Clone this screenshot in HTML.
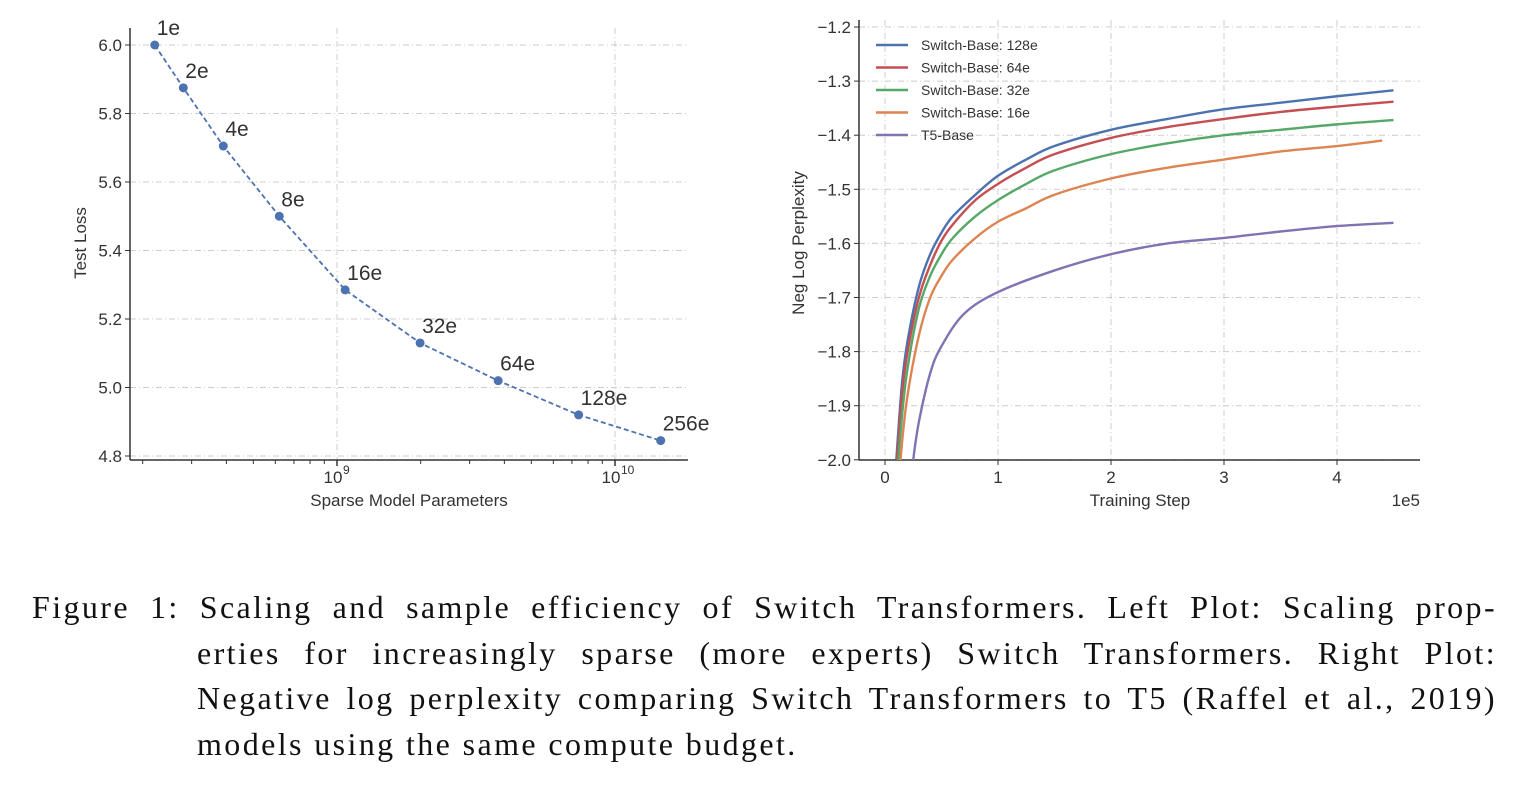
<!DOCTYPE html>
<html><head><meta charset="utf-8"><style>
body{margin:0;width:1540px;height:792px;background:#fff;overflow:hidden;position:relative;font-family:"Liberation Sans",sans-serif}
.cap{position:absolute;font-family:"Liberation Serif",serif;font-size:32px;letter-spacing:2.4px;color:#111;white-space:nowrap}
</style></head><body>
<svg id="chart" width="1540" height="540" style="position:absolute;left:0;top:0" font-family="Liberation Sans, sans-serif"></svg>
<span class="cap jl" data-w="1465" style="left:32px;top:589px">Figure 1: Scaling and sample efficiency of Switch Transformers. Left Plot: Scaling prop-</span>
<span class="cap jl" data-w="1300" style="left:197px;top:635px">erties for increasingly sparse (more experts) Switch Transformers. Right Plot:</span>
<span class="cap jl" data-w="1300" style="left:197px;top:680px">Negative log perplexity comparing Switch Transformers to T5 (Raffel et al., 2019)</span>
<span class="cap" style="left:197px;top:726px">models using the same compute budget.</span>
<script>
const leftLabels=["1e","2e","4e","8e","16e","32e","64e","128e","256e"];
const leftParams=[2.21e8,2.8e8,3.9e8,6.2e8,1.07e9,1.99e9,3.8e9,7.4e9,1.46e10];
const leftLoss=[6.0,5.875,5.705,5.50,5.285,5.13,5.02,4.92,4.845];
const leftYTicks=[4.8,5.0,5.2,5.4,5.6,5.8,6.0];
const rightXTicks=[0,1,2,3,4];
const rightYTicks=[-2.0,-1.9,-1.8,-1.7,-1.6,-1.5,-1.4,-1.3,-1.2];
const seriesNames=["Switch-Base: 128e","Switch-Base: 64e","Switch-Base: 32e","Switch-Base: 16e","T5-Base"];
const switchSteps=[0.1,0.15,0.2,0.3,0.4,0.5,0.6,0.8,1.0,1.25,1.5,2,2.5,3,3.5,4,4.5];
const blueVals=[-2.0,-1.86,-1.78,-1.68,-1.62,-1.58,-1.55,-1.51,-1.475,-1.445,-1.42,-1.39,-1.37,-1.352,-1.34,-1.328,-1.317];
const redVals=[-2.02,-1.88,-1.80,-1.70,-1.64,-1.595,-1.565,-1.52,-1.49,-1.46,-1.435,-1.405,-1.385,-1.37,-1.357,-1.347,-1.338];
const greenVals=[-2.05,-1.92,-1.83,-1.72,-1.66,-1.62,-1.59,-1.55,-1.52,-1.49,-1.465,-1.435,-1.415,-1.40,-1.39,-1.38,-1.372];
const orangeSteps=[0.1,0.15,0.2,0.3,0.4,0.5,0.6,0.8,1.0,1.25,1.5,2,2.5,3,3.5,4,4.4];
const orangeVals=[-2.1,-1.97,-1.88,-1.77,-1.70,-1.66,-1.63,-1.59,-1.56,-1.535,-1.51,-1.48,-1.46,-1.445,-1.43,-1.42,-1.41];
const t5Steps=[0.2,0.25,0.3,0.4,0.5,0.7,1.0,1.5,2,2.5,3,3.5,4,4.5];
const t5Vals=[-2.1,-2.0,-1.93,-1.84,-1.79,-1.73,-1.69,-1.65,-1.62,-1.60,-1.59,-1.578,-1.568,-1.562];

document.querySelectorAll('.jl').forEach(s=>{const w=+s.dataset.w;const n=(s.textContent.match(/ /g)||[]).length;
 const cur=s.getBoundingClientRect().width;if(n)s.style.wordSpacing=((w-cur)/n)+'px';});

const svg=document.getElementById('chart');const NS='http://www.w3.org/2000/svg';
function el(t,a,p){const e=document.createElementNS(NS,t);for(const k in a)e.setAttribute(k,a[k]);(p||svg).appendChild(e);return e;}
const lx=v=>337+(Math.log10(v)-9)*278, ly=v=>456-(v-4.8)/0.2*68.5;
const gL=el('g',{});

for(const t of leftYTicks){const y=ly(t);
 const g=el('line',{x1:130,x2:688,y1:y,y2:y,stroke:'#ccc','stroke-dasharray':'6,3,1,3','stroke-width':1},gL);
 
 el('line',{x1:125,x2:130,y1:y,y2:y,stroke:'#333'},gL);
 const tx=el('text',{x:122,y:y+6,'text-anchor':'end','font-size':17,fill:'#333'},gL);tx.textContent=t.toFixed(1);
 }
for(const e of [9,10]){const x=lx(Math.pow(10,e));
 const g=el('line',{x1:x,x2:x,y1:28,y2:460,stroke:'#ccc','stroke-dasharray':'6,3,1,3'},gL);
 
 el('line',{x1:x,x2:x,y1:460,y2:466,stroke:'#333','stroke-width':1.5},gL);
 const tx=el('text',{x:x-4,y:483,'text-anchor':'middle','font-size':17,fill:'#333'},gL);tx.textContent='10';
 
 const sp=el('text',{x:x+6,y:474,'font-size':12,fill:'#333'},gL);sp.textContent=String(e);}
for(let e=8;e<=10;e++)for(let m=2;m<=9;m++){const v=m*Math.pow(10,e),x=lx(v);if(x>130&&x<688)el('line',{x1:x,x2:x,y1:460,y2:464,stroke:'#333'},gL);}
el('line',{x1:130,x2:130,y1:28,y2:460,stroke:'#333','stroke-width':1.5},gL);
el('line',{x1:130,x2:688,y1:460,y2:460,stroke:'#333','stroke-width':1.5},gL);
let d='';leftParams.forEach((p,i)=>{d+=(i?'L':'M')+lx(p)+','+ly(leftLoss[i]);});
const ln=el('path',{d,fill:'none',stroke:'#4c72b0','stroke-width':1.8,'stroke-dasharray':'5,3'},gL);

leftParams.forEach((p,i)=>{const c=el('circle',{cx:lx(p),cy:ly(leftLoss[i]),r:4.5,fill:'#4c72b0'},gL);
 
 const t=el('text',{x:lx(p)+2,y:ly(leftLoss[i])-10,'font-size':21,fill:'#333'},gL);t.textContent=leftLabels[i];
 });
let t=el('text',{x:409,y:506,'text-anchor':'middle','font-size':17,fill:'#333'},gL);t.textContent='Sparse Model Parameters';

t=el('text',{x:0,y:0,'text-anchor':'middle','font-size':17,fill:'#333',transform:'translate(86,243) rotate(-90)'},gL);t.textContent='Test Loss';

const rx=v=>885+v*113, ry=v=>27+(-1.2-v)/0.1*54.1;
const gR=el('g',{});

for(const v of rightYTicks){const y=ry(v);
 const g=el('line',{x1:859,x2:1420,y1:y,y2:y,stroke:'#ccc','stroke-dasharray':'6,3,1,3'},gR);
 
 el('line',{x1:854,x2:859,y1:y,y2:y,stroke:'#333'},gR);
 const tx=el('text',{x:851,y:y+6,'text-anchor':'end','font-size':17,fill:'#333'},gR);tx.textContent='\u2212'+Math.abs(v).toFixed(1);
 }
for(const v of rightXTicks){const x=rx(v);
 const g=el('line',{x1:x,x2:x,y1:20,y2:460,stroke:'#ccc','stroke-dasharray':'6,3,1,3'},gR);
 
 el('line',{x1:x,x2:x,y1:460,y2:465,stroke:'#333'},gR);
 const tx=el('text',{x:x,y:483,'text-anchor':'middle','font-size':17,fill:'#333'},gR);tx.textContent=String(v);
 }
el('line',{x1:859,x2:859,y1:20,y2:460,stroke:'#333','stroke-width':1.5},gR);
el('line',{x1:859,x2:1420,y1:460,y2:460,stroke:'#333','stroke-width':1.5},gR);
el('clipPath',{id:'rc'},gR);el('rect',{x:859,y:20,width:561,height:440},document.getElementById('rc'));
const cols=['#4c72b0','#c44e52','#55a868','#dd8452','#8172b2'];
const sx=[switchSteps,switchSteps,switchSteps,orangeSteps,t5Steps],sy=[blueVals,redVals,greenVals,orangeVals,t5Vals];
const keys=['switch-128e-line','switch-64e-line','switch-32e-line','switch-16e-line','t5-base-line'];
for(let s=0;s<5;s++){let dd='';sx[s].forEach((x,i)=>{const px=rx(x),py=ry(sy[s][i]);
 if(i===0)dd='M'+px+','+py;else{const x0=rx(sx[s][i-1]),y0=ry(sy[s][i-1]),x2=i+1<sx[s].length?rx(sx[s][i+1]):px,y2=i+1<sy[s].length?ry(sy[s][i+1]):py,xm=i>1?rx(sx[s][i-2]):x0,ym=i>1?ry(sy[s][i-2]):y0;
 dd+='C'+(x0+(px-xm)/6)+','+(y0+(py-ym)/6)+' '+(px-(x2-x0)/6)+','+(py-(y2-y0)/6)+' '+px+','+py;}});
 const p=el('path',{d:dd,fill:'none',stroke:cols[s],'stroke-width':2.4,'clip-path':'url(#rc)'},gR);
 
 const ly2=45+s*22.5;
 el('line',{x1:876,x2:908,y1:ly2,y2:ly2,stroke:cols[s],'stroke-width':2.4},gR);
 const lt=el('text',{x:921,y:ly2+5,'font-size':14,fill:'#333'},gR);lt.textContent=seriesNames[s];
 }
t=el('text',{x:1140,y:506,'text-anchor':'middle','font-size':17,fill:'#333'},gR);t.textContent='Training Step';

t=el('text',{x:1420,y:506,'text-anchor':'end','font-size':17,fill:'#333'},gR);t.textContent='1e5';

t=el('text',{x:0,y:0,'text-anchor':'middle','font-size':17,fill:'#333',transform:'translate(804,243) rotate(-90)'},gR);t.textContent='Neg Log Perplexity';

</script>
</body></html>
